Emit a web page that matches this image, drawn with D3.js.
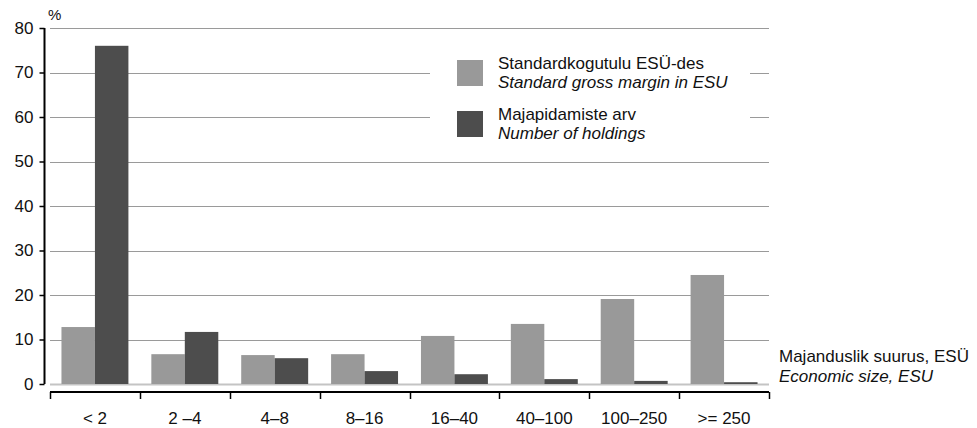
<!DOCTYPE html>
<html>
<head>
<meta charset="utf-8">
<script src="https://cdn.jsdelivr.net/npm/d3@7"></script>
<style>
  body { margin: 0; background: #fff; }
  svg text { font-family: "Liberation Sans", Arial, sans-serif; fill: #111; }
</style>
</head>
<body>
<svg id="chart"></svg>
<script>
// data
const categories = ["< 2", "2 \u20134", "4\u20138", "8\u201316", "16\u201340", "40\u2013100", "100\u2013250", ">= 250"];
const grossMargin = [12.8, 6.7, 6.5, 6.7, 10.8, 13.5, 19.1, 24.5];
const holdings = [76.0, 11.7, 5.8, 2.9, 2.2, 1.1, 0.7, 0.4];
const yTicks = [0, 10, 20, 30, 40, 50, 60, 70, 80];
const seriesNames = [
    ["Standardkogutulu ESÜ-des", "Standard gross margin in ESU"],
    ["Majapidamiste arv", "Number of holdings"]
];
const xTitle = ["Majanduslik suurus, ESÜ", "Economic size, ESU"];

const width = 977, height = 428;
const colors = ["#999999", "#4d4d4d"];
const fontSize = "17px";

const svg = d3.select("#chart")
    .attr("width", width)
    .attr("height", height);

// plot area
const plotLeft = 50, plotRight = 769, plotTop = 28, plotBottom = 384;

const y = d3.scaleLinear().domain([0, 80]).range([plotBottom, plotTop]);

const x0 = d3.scaleBand()
    .domain(categories)
    .range([plotLeft, plotRight])
    .paddingInner(0.255)
    .paddingOuter(0.1275);

const x1 = d3.scaleBand()
    .domain([0, 1])
    .range([0, x0.bandwidth()]);

// gridlines
svg.append("g")
    .selectAll("line")
    .data(yTicks)
    .join("line")
    .attr("x1", plotLeft)
    .attr("x2", plotRight)
    .attr("y1", d => Math.round(y(d)) + 0.5)
    .attr("y2", d => Math.round(y(d)) + 0.5)
    .attr("stroke", d => d === 0 ? "#c4c4c4" : "#9a9a9a")
    .attr("stroke-width", d => d === 0 ? 2 : 1);

// y axis
const yAxis = svg.append("g")
    .attr("transform", "translate(44.5,0)")
    .call(d3.axisLeft(y).tickValues(yTicks).tickSize(5).tickPadding(6));
yAxis.select(".domain").attr("stroke", "#000").attr("stroke-width", 2)
    .attr("d", `M0,${plotTop}V${plotBottom}`);
yAxis.selectAll(".tick line").attr("stroke", "#000").attr("stroke-width", 1.5);
yAxis.selectAll("text").style("font-size", fontSize).attr("fill", "#111");

svg.append("text")
    .attr("x", 48)
    .attr("y", 20)
    .style("font-size", "15px")
    .text("%");

// legend box (hides the gridlines behind it)
svg.append("rect")
    .attr("x", 430).attr("y", 36)
    .attr("width", 320).attr("height", 118)
    .attr("fill", "#fff");

// bars
const groups = svg.append("g")
    .selectAll("g")
    .data(categories)
    .join("g")
    .attr("transform", d => `translate(${x0(d)},0)`);

groups.selectAll("rect")
    .data((d, i) => [grossMargin[i], holdings[i]])
    .join("rect")
    .attr("x", (d, j) => x1(j))
    .attr("width", x1.bandwidth())
    .attr("y", d => y(d))
    .attr("height", d => y(0) - y(d))
    .attr("fill", (d, j) => colors[j]);

// x axis (separate line below the zero line)
const step = x0.step();
const xTickPos = d3.range(categories.length + 1).map(i => plotLeft + i * step);
const xAxis = svg.append("g");
xAxis.append("line")
    .attr("x1", plotLeft).attr("x2", plotRight)
    .attr("y1", 392).attr("y2", 392)
    .attr("stroke", "#000").attr("stroke-width", 2);
xAxis.selectAll(".xtick")
    .data(xTickPos)
    .join("line")
    .attr("class", "xtick")
    .attr("x1", d => Math.round(d) + 0.5)
    .attr("x2", d => Math.round(d) + 0.5)
    .attr("y1", 392).attr("y2", 399)
    .attr("stroke", "#000").attr("stroke-width", 1.5);
xAxis.selectAll("text")
    .data(categories)
    .join("text")
    .attr("x", d => x0(d) + x0.bandwidth() / 2)
    .attr("y", 424)
    .attr("text-anchor", "middle")
    .style("font-size", fontSize)
    .text(d => d);

// x title
svg.append("text")
    .attr("x", 779).attr("y", 362)
    .style("font-size", fontSize)
    .text(xTitle[0]);
svg.append("text")
    .attr("x", 779).attr("y", 382)
    .style("font-size", fontSize)
    .style("font-style", "italic")
    .text(xTitle[1]);

// legend
const legend = svg.append("g");
const legendY = [60, 111];
seriesNames.forEach((names, i) => {
    legend.append("rect")
        .attr("x", 457).attr("y", legendY[i])
        .attr("width", 26).attr("height", 26)
        .attr("fill", colors[i]);
    legend.append("text")
        .attr("x", 498).attr("y", legendY[i] + 9)
        .style("font-size", fontSize)
        .text(names[0]);
    legend.append("text")
        .attr("x", 498).attr("y", legendY[i] + 28)
        .style("font-size", fontSize)
        .style("font-style", "italic")
        .text(names[1]);
});
</script>
</body>
</html>
